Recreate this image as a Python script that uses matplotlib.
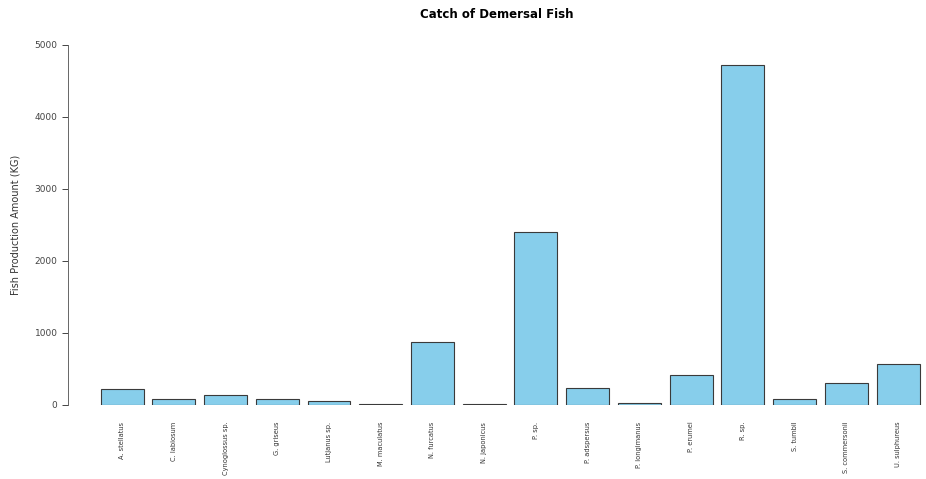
import numpy as np
import matplotlib.pyplot as plt

# catch per species (kg)
species = ["A. stellatus", "C. labiosum", "Cynoglossus sp.", "G. griseus",
           "Lutjanus sp.", "M. maculatus", "N. furcatus", "N. japonicus",
           "P. sp.", "P. adspersus", "P. longimanus", "P. erumei",
           "R. sp.", "S. tumbil", "S. commersonii", "U. sulphureus"]
catch_kg = [222, 80, 140, 90, 60, 10, 875, 10,
            2400, 230, 30, 420, 4720, 90, 300, 565]

fig = plt.figure(figsize=(9.26, 4.79), dpi=100)
ax = fig.add_axes([68 / 926, (479 - 405) / 479, (926 - 68) / 926, 360 / 479])

x = np.arange(len(species))
ax.bar(x, catch_kg, width=0.83, color="#87CEEB", edgecolor="#3a3a3a", linewidth=0.8)

ax.set_xlim(-1.045, 15.54)
ax.set_ylim(0, 5000)
ax.set_yticks(range(0, 5001, 1000))
ax.tick_params(axis="y", labelsize=6.5, length=4, width=0.7, colors="#444444")
ax.set_xticks(x)
ax.set_xticklabels(species, rotation=90, fontsize=4.8, va="top", color="#333333")
ax.tick_params(axis="x", length=0, pad=12)

for side in ["top", "right", "bottom"]:
    ax.spines[side].set_visible(False)
ax.spines["left"].set_bounds(0, 5000)
ax.spines["left"].set_linewidth(0.7)
ax.spines["left"].set_color("#666666")

ax.set_ylabel("Fish Production Amount (KG)", fontsize=7, labelpad=10, color="#333333")
fig.text(0.5 + 34 / 926, 1 - 14 / 479, "Catch of Demersal Fish",
         ha="center", va="center", fontsize=8.5, fontweight="bold")

fig.savefig("out.png", dpi=100)
